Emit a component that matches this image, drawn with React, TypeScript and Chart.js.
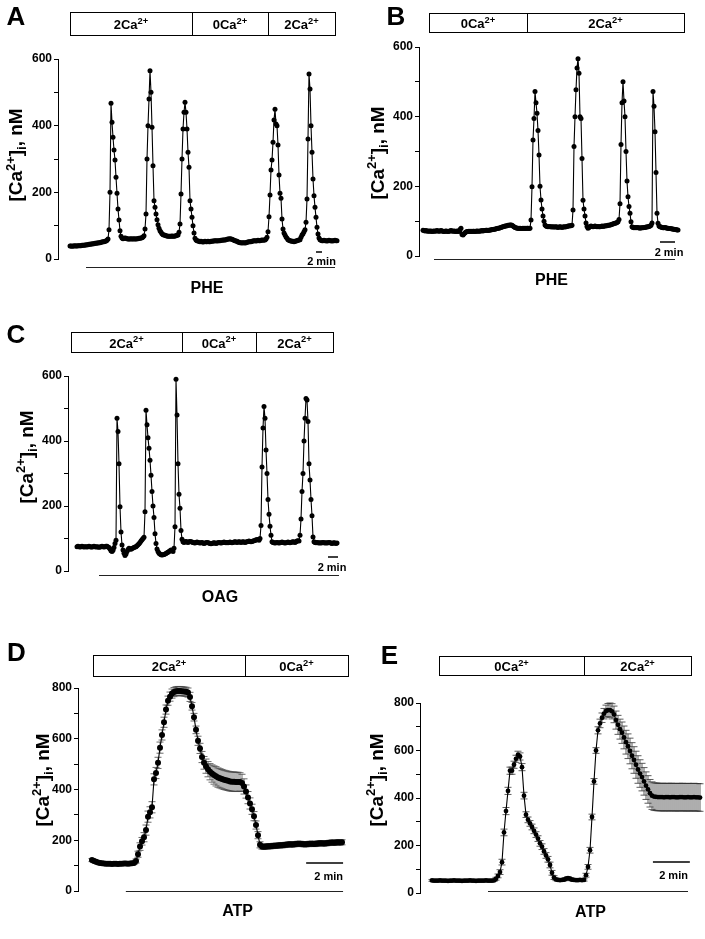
import React, { useEffect, useRef } from "react";
import { Chart, registerables } from "chart.js";

Chart.register(...registerables);

const FONT = 'Arial, "Liberation Sans", Helvetica, sans-serif';

// ---------- DATA ----------
// Panel A: PHE, sample interval 20 s
const dtA = 20;
const caA = [
  39,39,38,39,39,40,39,39,40,40,
  40,40,41,41,41,42,42,43,43,44,
  44,45,45,46,46,47,47,48,48,49,
  49,50,51,52,52,53,54,56,60,88,
  200,467,410,365,327,297,245,197,150,117,
  85,68,63,61,62,63,62,61,60,60,
  60,61,60,60,61,60,60,61,61,62,
  62,63,64,66,70,90,135,300,400,480,
  565,500,395,280,175,155,135,118,103,92,
  85,80,76,73,72,71,70,69,68,68,
  68,68,69,68,68,69,70,71,72,80,
  105,195,300,390,440,470,440,390,320,275,
  175,150,125,100,78,62,57,55,54,53,
  52,53,52,51,52,53,52,52,53,52,
  52,53,53,54,54,55,55,54,55,55,
  55,56,56,57,57,57,58,59,60,60,
  61,60,59,58,56,55,54,53,51,50,
  49,49,48,49,49,48,49,50,51,52,
  52,52,53,54,55,55,54,55,56,55,
  55,56,57,56,57,57,60,65,82,127,
  192,267,297,350,417,449,405,400,342,252,
  197,182,120,90,78,72,66,62,58,56,
  55,54,53,53,52,53,54,55,56,57,
  58,65,72,76,82,88,110,180,360,555,
  510,400,320,240,190,155,125,95,75,63,
  58,56,55,55,56,55,55,54,55,56,
  55,55,54,55,55,56,55,55,
];
const solLabelsA = ["2Ca", "0Ca", "2Ca"];
const solTimesA = [0, 2440, 3960, 5300];
const drugTimesA = [320, 5300];
const scaleTimesA = [4920, 5040];

// Panel B: PHE, sample interval 8 s
const dtB = 8;
const caB = [
  74,73,72,73,72,71,72,71,72,70,
  71,72,71,72,73,72,71,72,73,72,
  71,70,71,72,71,70,71,72,73,72,
  71,72,71,70,72,71,70,76,80,62,
  60,64,67,69,70,70,71,70,71,70,
  71,71,70,71,72,71,71,72,72,73,
  72,73,73,74,74,73,74,75,75,76,
  76,77,77,78,79,80,80,81,82,83,
  84,85,86,86,87,88,88,89,89,88,
  86,84,82,81,80,80,79,80,79,79,
  80,79,80,79,80,80,79,80,103,199,
  333,395,472,440,410,360,290,200,161,135,
  115,100,89,86,85,84,85,84,84,83,
  84,83,83,84,83,82,83,84,83,82,
  83,84,83,84,85,86,86,87,87,88,
  132,314,400,477,540,566,525,400,395,280,
  160,135,115,95,85,80,82,85,86,85,
  84,85,86,85,84,85,84,84,85,86,
  85,86,86,87,87,88,88,89,90,91,
  92,93,94,95,96,98,105,150,320,440,
  500,445,400,300,215,170,142,123,98,84,
  82,81,82,81,82,81,81,80,81,81,
  81,82,82,83,83,84,85,86,88,95,
  472,430,357,240,123,94,86,84,83,82,
  81,81,82,81,80,80,79,79,78,78,
  77,77,76,76,75,75,
];
const solLabelsB = ["0Ca", "2Ca"];
const solTimesB = [48, 832, 2088];
const drugTimesB = [88, 2016];
const scaleTimesB = [1896, 2016];

// Panel C: OAG, sample interval 12 s
const dtC = 12;
const caC = [
  75,76,75,74,75,76,75,74,75,75,
  74,75,76,75,74,74,75,76,75,74,
  75,74,73,74,75,76,75,74,75,76,
  76,74,72,68,62,60,64,72,85,95,
  470,429,330,198,120,80,65,55,48,52,
  60,66,70,68,67,69,71,72,74,75,
  78,81,84,88,92,96,100,104,182,495,
  450,410,378,341,295,245,200,165,115,85,
  68,60,55,52,50,49,50,51,52,54,
  56,58,60,62,65,63,60,70,136,590,
  480,330,236,193,125,98,90,88,90,91,
  89,88,90,91,90,89,88,87,86,88,
  89,88,87,86,87,88,86,85,86,87,
  88,87,86,85,84,85,86,87,86,85,
  86,87,88,87,86,87,88,89,88,87,
  88,87,88,89,88,87,88,89,90,89,
  88,89,90,89,88,89,90,89,88,89,
  90,91,92,91,90,91,92,93,94,96,
  96,97,95,100,140,320,440,506,470,372,
  300,220,175,138,110,90,88,87,86,87,
  88,87,86,87,88,89,88,87,86,87,
  88,89,88,87,88,89,90,89,88,90,
  92,93,92,110,160,245,300,400,470,531,
  526,460,330,280,220,170,105,90,88,87,
  88,87,86,87,86,87,88,87,86,87,
  86,87,88,87,86,85,86,87,86,85,
  86,
];
const solLabelsC = ["2Ca", "0Ca", "2Ca"];
const solTimesC = [-72, 1260, 2148, 3072];
const drugTimesC = [264, 3144];
const scaleTimesC = [3012, 3132];

// Panel D: ATP, mean ± SEM, sample interval 6.5 s
const dtD = 6.5;
const caD = [
  122,118,115,112,110,109,108,107,107,107,
  106,107,107,106,107,107,108,108,107,108,
  109,110,118,145,175,196,212,240,293,310,
  330,440,465,505,565,615,665,715,750,766,
  778,784,787,788,788,787,786,785,782,765,
  728,685,635,592,562,528,505,492,480,470,
  463,457,452,447,444,441,438,436,434,432,
  431,431,430,430,430,426,412,392,368,345,
  322,295,260,220,182,175,174,175,176,176,
  177,178,178,179,180,180,181,182,183,184,
  183,184,185,186,186,185,184,184,185,186,
  186,185,186,187,188,188,187,188,189,190,
  191,190,191,192,191,192,
];
const errD = [
  6,6,5,5,5,5,5,5,5,5,
  5,5,5,5,5,5,5,5,5,5,
  5,5,8,12,15,15,18,20,22,22,
  22,22,22,22,22,20,20,18,18,18,
  18,18,18,18,18,18,18,18,18,18,
  15,15,15,18,20,22,25,28,30,32,
  34,36,38,38,38,38,38,38,38,38,
  38,38,38,38,36,34,30,26,24,22,
  20,18,16,14,12,10,10,10,10,10,
  10,10,10,10,10,10,10,10,10,10,
  10,10,10,10,10,10,10,10,10,10,
  10,10,10,10,10,10,10,10,10,10,
  10,10,10,10,10,10,
];
const solLabelsD = ["2Ca", "0Ca"];
const solTimesD = [3, 497, 832];
const drugTimesD = [110, 816];
const scaleTimesD = [696, 816];

// Panel E: ATP, mean ± SEM, sample interval 6.5 s
const dtE = 6.5;
const caE = [
  53,52,52,52,53,52,52,52,51,52,
  52,53,52,52,52,51,52,52,52,53,
  52,52,51,52,52,52,52,53,52,52,
  52,53,60,72,88,130,255,345,430,515,
  515,540,565,582,575,530,410,330,308,293,
  278,262,246,229,209,195,175,158,142,118,
  85,65,57,55,54,55,56,60,63,60,
  56,55,54,54,55,54,55,75,110,180,
  320,470,600,685,714,738,755,766,770,770,
  765,752,728,708,690,675,655,635,618,598,
  578,560,540,520,503,488,470,452,436,420,
  410,406,405,404,404,404,403,404,404,403,
  404,404,403,403,404,404,403,403,404,403,
  403,404,403,403,402,
];
const errE = [
  4,4,4,4,4,4,4,4,4,4,
  4,4,4,4,4,4,4,4,4,4,
  4,4,4,4,4,4,4,4,4,4,
  4,4,6,8,10,12,14,15,15,15,
  15,15,15,15,15,15,14,12,12,12,
  12,12,12,12,12,12,12,12,12,12,
  10,8,5,5,5,5,5,5,5,5,
  5,5,5,5,5,5,5,8,10,12,
  12,12,12,15,18,20,22,25,28,30,
  32,35,38,40,42,45,48,50,52,54,
  55,56,57,58,58,58,58,58,58,58,
  58,58,58,58,58,58,58,58,58,58,
  58,58,58,58,58,58,58,58,58,58,
  58,58,58,58,58,
];
const solLabelsE = ["0Ca", "2Ca"];
const solTimesE = [23, 494, 842];
const drugTimesE = [182, 832];
const scaleTimesE = [718, 838];

const yTicksABC = [0, 200, 400, 600];
const yTicksDE = [0, 200, 400, 600, 800];

// ---------- LAYOUT ----------
const panels = [
  {
    key: "A", left: 0, top: 0, w: 352, h: 300,
    pad: { left: 18, right: 12, top: 59, bottom: 41 },
    xMin: -240, xMax: 5400, yMax: 600, labeled: yTicksABC,
    values: caA, dt: dtA, errors: null, radius: 2.5,
    letter: { x: 16, y: 15.5 }, title: { x: 15.5, y: 155 },
    sol: { times: solTimesA, labels: solLabelsA, top: 12, bottom: 35 },
    drug: { times: drugTimesA, label: "PHE", y: 267, textT: 2740, textY: 287 },
    scale: { times: scaleTimesA, y: 252, textT: 5030, textY: 261 },
  },
  {
    key: "B", left: 352, top: 0, w: 353, h: 300,
    pad: { left: 27, right: 21, top: 47, bottom: 44 },
    xMin: -32, xMax: 2088, yMax: 600, labeled: yTicksABC,
    values: caB, dt: dtB, errors: null, radius: 2.5,
    letter: { x: 44, y: 15.5 }, title: { x: 25, y: 153 },
    sol: { times: solTimesB, labels: solLabelsB, top: 13, bottom: 32 },
    drug: { times: drugTimesB, label: "PHE", y: 259, textT: 1028, textY: 279 },
    scale: { times: scaleTimesB, y: 242, textT: 1968, textY: 252 },
  },
  {
    key: "C", left: 0, top: 300, w: 352, h: 315,
    pad: { left: 28, right: 12, top: 76, bottom: 44 },
    xMin: -108, xMax: 3156, yMax: 600, labeled: yTicksABC,
    values: caC, dt: dtC, errors: null, radius: 2.5,
    letter: { x: 16, y: 33.5 }, title: { x: 26, y: 157 },
    sol: { times: solTimesC, labels: solLabelsC, top: 32, bottom: 52 },
    drug: { times: drugTimesC, label: "OAG", y: 275, textT: 1716, textY: 296 },
    scale: { times: scaleTimesC, y: 257, textT: 3060, textY: 267 },
  },
  {
    key: "D", left: 0, top: 620, w: 352, h: 319,
    pad: { left: 38, right: 4, top: 68, bottom: 48 },
    xMin: -45.5, xMax: 832, yMax: 800, labeled: yTicksDE,
    values: caD, dt: dtD, errors: errD, radius: 3, errColor: "#444",
    letter: { x: 16.5, y: 31.5 }, title: { x: 42, y: 160 },
    sol: { times: solTimesD, labels: solLabelsD, top: 35, bottom: 56 },
    drug: { times: drugTimesD, label: "ATP", y: 271, textT: 473, textY: 290 },
    scale: { times: scaleTimesD, y: 243, textT: 769, textY: 256.5 },
  },
  {
    key: "E", left: 352, top: 620, w: 353, h: 319,
    pad: { left: 28, right: 5, top: 83, bottom: 46 },
    xMin: -39, xMax: 871, yMax: 800, labeled: yTicksDE,
    values: caE, dt: dtE, errors: errE, radius: 2.4, errColor: "#333",
    letter: { x: 37.5, y: 34.5 }, title: { x: 24, y: 160 },
    sol: { times: solTimesE, labels: solLabelsE, top: 36, bottom: 55 },
    drug: { times: drugTimesE, label: "ATP", y: 271, textT: 515, textY: 291 },
    scale: { times: scaleTimesE, y: 242, textT: 785, textY: 255 },
  },
];

type Part = { t: string; s?: "sup" | "sub" };

function drawRich(ctx: CanvasRenderingContext2D, parts: Part[], cx: number, cy: number, size: number, rotate: boolean, ratio = 0.65) {
  ctx.save();
  ctx.translate(cx, cy);
  if (rotate) ctx.rotate(-Math.PI / 2);
  const small = size * ratio;
  const widths = parts.map((p) => {
    ctx.font = `bold ${p.s ? small : size}px ${FONT}`;
    return ctx.measureText(p.t).width;
  });
  const total = widths.reduce((a, b) => a + b, 0);
  let x = -total / 2;
  const base = size * 0.358;
  ctx.textAlign = "left";
  ctx.textBaseline = "alphabetic";
  ctx.fillStyle = "#000";
  parts.forEach((p, i) => {
    ctx.font = `bold ${p.s ? small : size}px ${FONT}`;
    const dy = p.s === "sup" ? -size * 0.4 : p.s === "sub" ? size * 0.22 : 0;
    ctx.fillText(p.t, x, base + dy);
    x += widths[i];
  });
  ctx.restore();
}

const TITLE: Part[] = [{ t: "[Ca" }, { t: "2+", s: "sup" }, { t: "]" }, { t: "i", s: "sub" }, { t: ", nM" }];

function makeDeco(cfg: any) {
  return {
    id: "deco" + cfg.key,
    afterDraw(chart: any) {
      const ctx: CanvasRenderingContext2D = chart.ctx;
      const xs = chart.scales.x;
      const px = (t: number) => xs.getPixelForValue(t);
      ctx.save();
      // panel letter
      ctx.fillStyle = "#000";
      ctx.font = `bold 26px ${FONT}`;
      ctx.textAlign = "center";
      ctx.textBaseline = "alphabetic";
      ctx.fillText(cfg.key, cfg.letter.x, cfg.letter.y + 26 * 0.358);
      // axis title
      drawRich(ctx, TITLE, cfg.title.x, cfg.title.y, 19, true, 0.68);
      // solution boxes
      const s = cfg.sol;
      const n = s.times.length;
      const x0 = Math.round(px(s.times[0])) + 0.5;
      const x1 = Math.round(px(s.times[n - 1])) + 0.5;
      ctx.strokeStyle = "#000";
      ctx.lineWidth = 1;
      ctx.strokeRect(x0, s.top + 0.5, x1 - x0, s.bottom - s.top);
      for (let i = 1; i < n - 1; i++) {
        const xd = Math.round(px(s.times[i])) + 0.5;
        ctx.beginPath();
        ctx.moveTo(xd, s.top + 0.5);
        ctx.lineTo(xd, s.bottom + 0.5);
        ctx.stroke();
      }
      for (let i = 0; i < n - 1; i++) {
        const cx = (px(s.times[i]) + px(s.times[i + 1])) / 2;
        drawRich(ctx, [{ t: s.labels[i] }, { t: "2+", s: "sup" }], cx, (s.top + s.bottom) / 2 + 1, 13, false, 0.72);
      }
      // drug bar
      const d = cfg.drug;
      ctx.strokeStyle = "#222";
      ctx.lineWidth = 1;
      ctx.beginPath();
      ctx.moveTo(px(d.times[0]), d.y + 0.5);
      ctx.lineTo(px(d.times[1]), d.y + 0.5);
      ctx.stroke();
      ctx.fillStyle = "#000";
      ctx.font = `bold 16px ${FONT}`;
      ctx.textAlign = "center";
      ctx.fillText(d.label, px(d.textT), d.textY + 16 * 0.358);
      // time scale bar
      const sc = cfg.scale;
      ctx.strokeStyle = "#000";
      ctx.lineWidth = 1.5;
      ctx.beginPath();
      ctx.moveTo(px(sc.times[0]), sc.y);
      ctx.lineTo(px(sc.times[1]), sc.y);
      ctx.stroke();
      ctx.font = `bold 11px ${FONT}`;
      ctx.fillText("2 min", px(sc.textT), sc.textY + 11 * 0.358);
      ctx.restore();
    },
  };
}

const errorBars = {
  id: "errorBars",
  beforeDatasetsDraw(chart: any) {
    const ctx: CanvasRenderingContext2D = chart.ctx;
    const ys = chart.scales.y;
    chart.data.datasets.forEach((ds: any, i: number) => {
      if (!ds.errors) return;
      const meta = chart.getDatasetMeta(i);
      ctx.save();
      ctx.strokeStyle = ds.errColor || "#333";
      ctx.lineWidth = 0.8;
      meta.data.forEach((el: any, j: number) => {
        const v = ds.data[j].y;
        const e = ds.errors[j];
        const yt = ys.getPixelForValue(v + e);
        const yb = ys.getPixelForValue(v - e);
        ctx.beginPath();
        ctx.moveTo(el.x, yt);
        ctx.lineTo(el.x, yb);
        ctx.moveTo(el.x - 3.5, yt);
        ctx.lineTo(el.x + 3.5, yt);
        ctx.moveTo(el.x - 3.5, yb);
        ctx.lineTo(el.x + 3.5, yb);
        ctx.stroke();
      });
      ctx.restore();
    });
  },
};

function Panel({ cfg }: { cfg: any }) {
  const ref = useRef<HTMLCanvasElement | null>(null);
  useEffect(() => {
    if (!ref.current) return;
    const chart = new Chart(ref.current, {
      type: "line",
      data: {
        datasets: [
          {
            data: cfg.values.map((v: number, i: number) => ({ x: i * cfg.dt, y: v })),
            errors: cfg.errors,
            errColor: cfg.errColor,
            borderColor: "#000",
            borderWidth: 1.1,
            pointRadius: cfg.radius,
            pointBackgroundColor: "#000",
            pointBorderWidth: 0,
            tension: 0,
            clip: false,
          } as any,
        ],
      },
      options: {
        animation: false,
        responsive: false,
        maintainAspectRatio: false,
        devicePixelRatio: 1,
        events: [],
        layout: { padding: cfg.pad },
        plugins: { legend: { display: false }, tooltip: { enabled: false } },
        scales: {
          x: { type: "linear", display: false, min: cfg.xMin, max: cfg.xMax },
          y: {
            type: "linear",
            min: 0,
            max: cfg.yMax,
            border: { display: true, color: "#000", width: 1 },
            grid: { display: true, drawOnChartArea: false, drawTicks: true, tickLength: 4, color: "#000", lineWidth: 1 },
            ticks: {
              stepSize: 100,
              autoSkip: false,
              padding: 2,
              color: "#000",
              font: { family: FONT, size: 12, weight: "bold" },
              callback: (v: any) => (cfg.labeled.includes(Number(v)) ? String(v) : ""),
            },
            afterFit: (s: any) => {
              s.width = 40;
            },
          },
        },
      } as any,
      plugins: [errorBars, makeDeco(cfg)],
    });
    return () => chart.destroy();
  }, []);
  return (
    <canvas
      ref={ref}
      width={cfg.w}
      height={cfg.h}
      style={{ position: "absolute", left: cfg.left, top: cfg.top, width: cfg.w, height: cfg.h }}
    />
  );
}

export default function App() {
  return (
    <div style={{ position: "absolute", left: 0, top: 0, width: 705, height: 939, background: "#fff" }}>
      {panels.map((p) => (
        <Panel key={p.key} cfg={p} />
      ))}
    </div>
  );
}
